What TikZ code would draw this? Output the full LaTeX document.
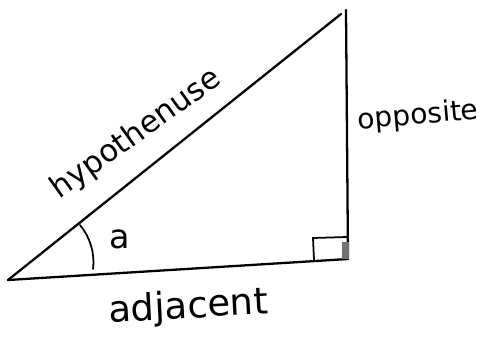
\documentclass[tikz,border=0pt]{standalone}
\usepackage{fontspec}
\setmainfont{DejaVu Sans}
\begin{document}
\begin{tikzpicture}[x=0.02cm,y=-0.02cm,
  edge/.style={line width=1.3pt,line cap=round,line join=round},
  lbl/.style={inner sep=0pt,anchor=base}]
\useasboundingbox (0,0) rectangle (487,339);
\coordinate (A) at (8,280);
\coordinate (B) at (348,259);
\coordinate (C) at (346,10);
\coordinate (H) at (341,14);
\coordinate (S1) at (314,260);
\coordinate (S2) at (313,238);
\coordinate (S3) at (347,237);
\draw[edge] (A) -- (B);
\draw[edge] (B) -- (C);
\draw[edge] (A) -- (H);
\draw[line width=1pt] (S1) -- (S2) -- (S3);
\fill[black!55] (342,242) rectangle (349,259);
\draw[line width=1pt,line cap=round] (80,225) .. controls (90,237) and (95,253) .. (93,269);
\node[lbl,font=\fontsize{19}{20}\selectfont] (ang) at (120,248) {a};
\node[lbl,font=\fontsize{17.5}{18}\selectfont,rotate=35.5] (hyp) at (141,141) {hypothenuse};
\node[lbl,font=\fontsize{16}{17}\selectfont,rotate=5] (opp) at (419,124) {opposite};
\node[lbl,font=\fontsize{21}{22}\selectfont,rotate=3] (adj) at (189,318) {adjacent};
\end{tikzpicture}
\end{document}
